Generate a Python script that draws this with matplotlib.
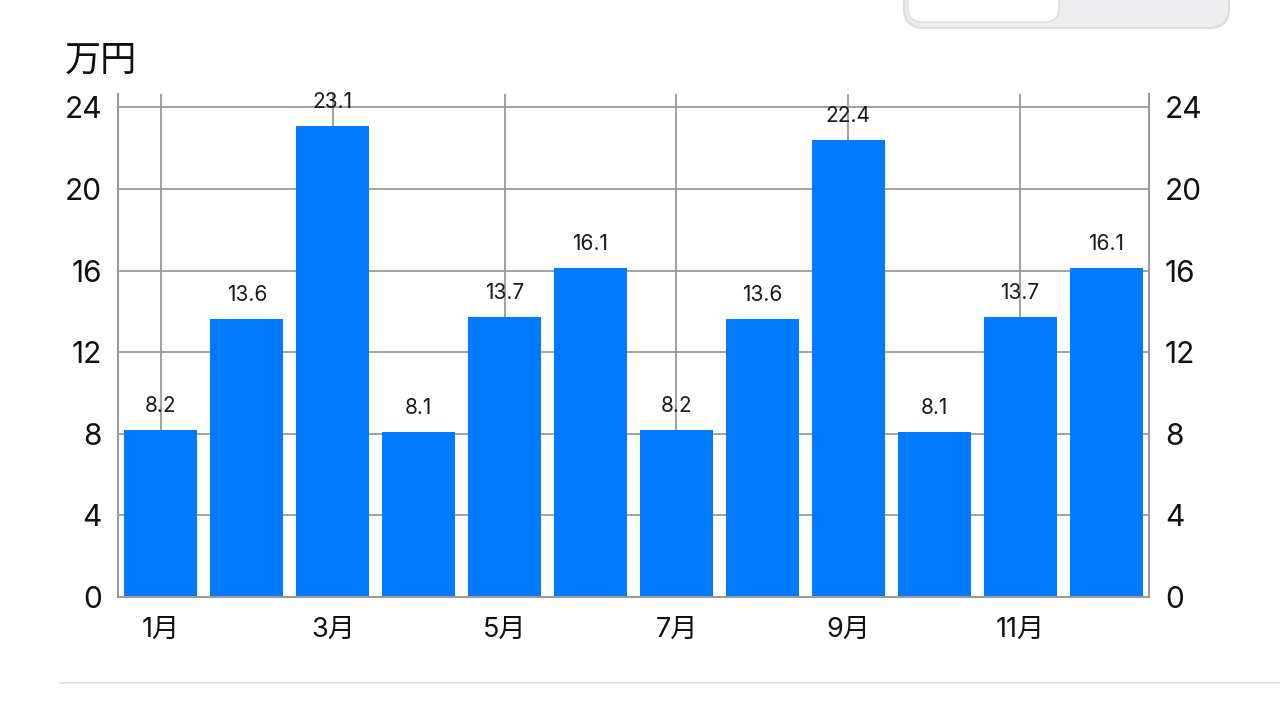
import matplotlib
matplotlib.use("Agg")
import matplotlib.pyplot as plt
from matplotlib.patches import FancyBboxPatch

plt.rcParams['font.family'] = ['Inter', 'Noto Sans CJK JP', 'DejaVu Sans']

months = ['1月', '2月', '3月', '4月', '5月', '6月', '7月', '8月', '9月', '10月', '11月', '12月']
values = [8.2, 13.6, 23.1, 8.1, 13.7, 16.1, 8.2, 13.6, 22.4, 8.1, 13.7, 16.1]
y_ticks = [0, 4, 8, 12, 16, 20, 24]
unit_label = '万円'

BLUE = '#007AFF'
GRID = '#9a9a9a'
TXT = '#111111'

fig = plt.figure(figsize=(12.8, 7.2), dpi=100)
ax = fig.add_axes([118/1280, 1-597/720, 1031/1280, (597-94)/720])

x = list(range(len(months)))
ax.bar(x, values, width=0.85, color=BLUE, zorder=3)
for xi, v in zip(x, values):
    ax.annotate(f'{v:.1f}', (xi, v), xytext=(0, 17.3), textcoords='offset points',
                ha='center', va='center', fontsize=15, color='#1a1a1a', zorder=5)

ax.set_xlim(-0.5, len(months) - 0.5)
ax.set_ylim(0, 24.65)
ax.set_yticks(y_ticks)
ax.set_yticklabels([str(t) for t in y_ticks])
shown = [i for i in x if i % 2 == 0]
ax.set_xticks(shown)
ax.set_xticklabels([months[i] for i in shown])

for t in y_ticks[1:]:
    ax.axhline(t, color=GRID, lw=1.3, zorder=1)
for i in shown:
    ax.axvline(i, color=GRID, lw=1.3, zorder=1)

ax.spines['top'].set_visible(False)
for s in ['left', 'right', 'bottom']:
    ax.spines[s].set_color(GRID)
    ax.spines[s].set_linewidth(1.5)
    ax.spines[s].set_zorder(4)

ax.tick_params(axis='y', length=0, pad=11.5, labelsize=21.5, colors=TXT)
ax.tick_params(axis='x', length=0, pad=14, labelsize=19.5, colors=TXT)

ax2 = ax.twinx()
ax2.set_ylim(ax.get_ylim())
ax2.set_yticks(y_ticks)
ax2.set_yticklabels([str(t) for t in y_ticks])
ax2.tick_params(axis='y', length=0, pad=11.5, labelsize=21.5, colors=TXT)
for s in ['top', 'left', 'bottom', 'right']:
    ax2.spines[s].set_visible(False)

fig.text(65/1280, 1-61/720, unit_label, fontsize=26, ha='left', va='center',
         color=TXT, family=['Noto Sans CJK JP', 'DejaVu Sans'])

# segmented control at top right (partly cut off)
shadow = FancyBboxPatch((903/1280, 1-29/720), (1230-903)/1280, 60/720,
                        boxstyle='round,pad=0,rounding_size=0.016', transform=fig.transFigure,
                        facecolor='#DCDCDE', edgecolor='none', mutation_aspect=1280/720)
fig.patches.append(shadow)
seg = FancyBboxPatch((905/1280, 1-27/720), (1228-905)/1280, 60/720,
                     boxstyle='round,pad=0,rounding_size=0.015', transform=fig.transFigure,
                     facecolor='#EDEDEF', edgecolor='none', mutation_aspect=1280/720)
fig.patches.append(seg)
knob = FancyBboxPatch((908/1280, 1-22/720), (1059-908)/1280, 50/720,
                      boxstyle='round,pad=0,rounding_size=0.011', transform=fig.transFigure,
                      facecolor='white', edgecolor='#DADADC', lw=1.0, mutation_aspect=1280/720)
fig.patches.append(knob)

# separator line at bottom
fig.add_artist(plt.Line2D([60/1280, 1.0], [1-683/720, 1-683/720], transform=fig.transFigure,
                          color='#DDDDDD', lw=1.2))

fig.savefig('out.png', dpi=100)
